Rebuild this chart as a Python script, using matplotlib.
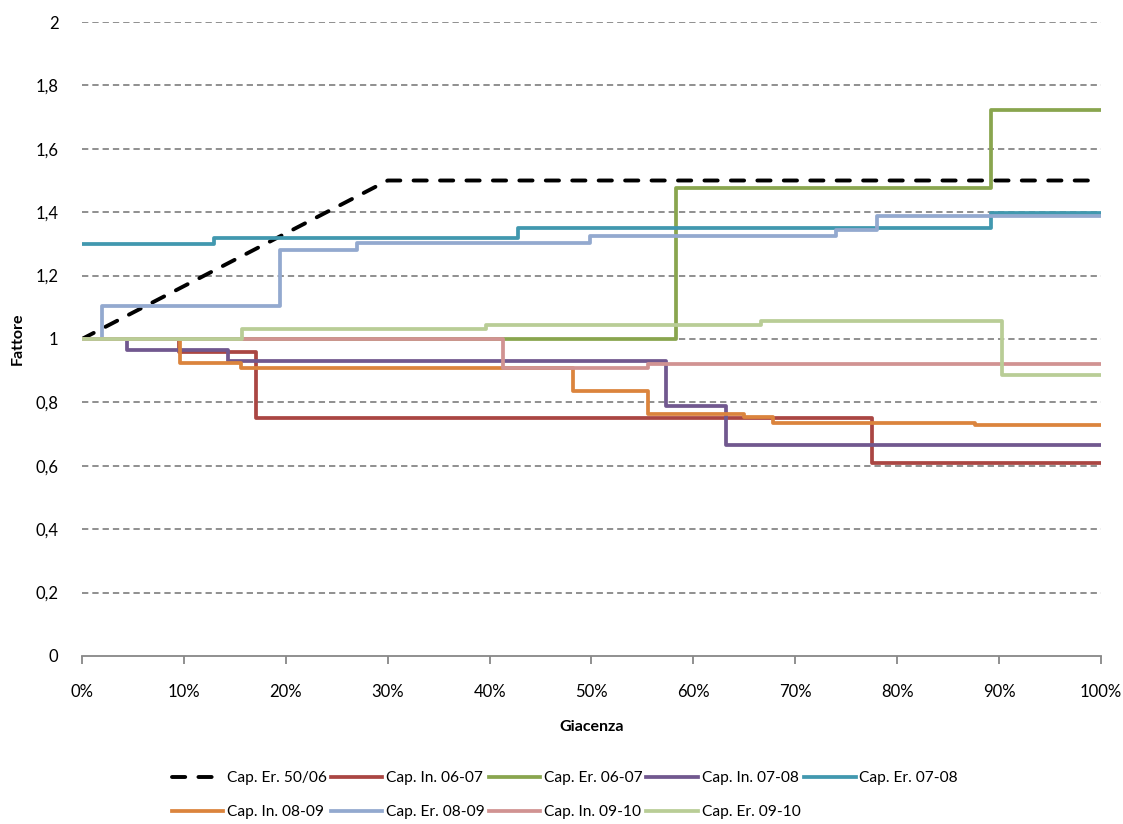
import matplotlib

matplotlib.use("Agg")

import matplotlib.pyplot as plt
from matplotlib.ticker import FixedLocator, FuncFormatter

plt.rcParams["font.family"] = ["Lato", "DejaVu Sans"]

# Giacenza (%) breakpoints and factor values for each series (step, post)
x_er_50_06 = [0, 30, 100]
y_er_50_06 = [1.0, 1.5, 1.5]

x_in_06_07 = [0, 9.5, 17.1, 77.5, 100]
y_in_06_07 = [1.0, 0.96, 0.75, 0.61, 0.61]

x_er_06_07 = [0, 58.3, 89.2, 100]
y_er_06_07 = [1.0, 1.477, 1.722, 1.722]

x_in_07_08 = [0, 4.4, 14.3, 57.3, 63.2, 100]
y_in_07_08 = [1.0, 0.965, 0.93, 0.79, 0.667, 0.667]

x_er_07_08 = [0, 13.0, 42.8, 89.2, 100]
y_er_07_08 = [1.30, 1.32, 1.35, 1.398, 1.398]

x_in_08_09 = [0, 9.6, 15.6, 48.2, 55.5, 65.0, 67.8, 87.6, 100]
y_in_08_09 = [1.0, 0.925, 0.907, 0.836, 0.763, 0.753, 0.734, 0.729, 0.729]

x_er_08_09 = [0, 2.0, 19.4, 27.0, 49.9, 74.0, 78.0, 100]
y_er_08_09 = [1.0, 1.104, 1.281, 1.304, 1.326, 1.344, 1.388, 1.388]

x_in_09_10 = [0, 41.3, 55.5, 100]
y_in_09_10 = [1.0, 0.907, 0.922, 0.922]

x_er_09_10 = [0, 15.7, 39.6, 66.6, 90.3, 100]
y_er_09_10 = [1.0, 1.031, 1.044, 1.057, 0.886, 0.886]

step_series = [
    ("Cap. In. 06-07", x_in_06_07, y_in_06_07, "#AA4643"),
    ("Cap. Er. 06-07", x_er_06_07, y_er_06_07, "#89A54E"),
    ("Cap. In. 07-08", x_in_07_08, y_in_07_08, "#71588F"),
    ("Cap. Er. 07-08", x_er_07_08, y_er_07_08, "#4198AF"),
    ("Cap. In. 08-09", x_in_08_09, y_in_08_09, "#DB843D"),
    ("Cap. Er. 08-09", x_er_08_09, y_er_08_09, "#93A9CF"),
    ("Cap. In. 09-10", x_in_09_10, y_in_09_10, "#D19392"),
    ("Cap. Er. 09-10", x_er_09_10, y_er_09_10, "#B9CD96"),
]

x_ticks = [0, 10, 20, 30, 40, 50, 60, 70, 80, 90, 100]
y_ticks = [0, 0.2, 0.4, 0.6, 0.8, 1.0, 1.2, 1.4, 1.6, 1.8, 2.0]


def main() -> None:
    fig = plt.figure(figsize=(11.23, 8.24), dpi=100)
    ax = fig.add_axes([0.073, 0.2039, 0.9074, 0.7694])

    for y in y_ticks[1:]:
        ax.axhline(y, color="#878787", lw=1.3, ls=(0, (3.5, 2.2)), zorder=1)

    handles = []
    (h,) = ax.plot(
        x_er_50_06, y_er_50_06, color="black", lw=2.8,
        ls=(0, (3.4, 3.4)), dash_capstyle="round", label="Cap. Er. 50/06", zorder=3,
    )
    handles.append(h)
    for label, xs, ys, color in step_series:
        (h,) = ax.step(xs, ys, where="post", color=color, lw=2.7, label=label,
                       solid_joinstyle="round", zorder=3)
        handles.append(h)

    ax.set_xlim(0, 100)
    ax.set_ylim(0, 2)
    for side in ("left", "right", "top"):
        ax.spines[side].set_visible(False)
    ax.spines["bottom"].set_color("#878787")
    ax.spines["bottom"].set_linewidth(1.3)

    ax.xaxis.set_major_locator(FixedLocator(x_ticks))
    ax.xaxis.set_major_formatter(FuncFormatter(lambda v, p: f"{v:.0f}%"))
    ax.yaxis.set_major_locator(FixedLocator(y_ticks))
    ax.yaxis.set_major_formatter(
        FuncFormatter(lambda v, p: f"{v:g}".replace(".", ","))
    )
    ax.tick_params(axis="x", direction="out", length=6, width=1.3, color="#878787",
                   pad=14, labelsize=12)
    ax.tick_params(axis="y", length=0, pad=17, labelsize=12)

    ax.set_xlabel("Giacenza", fontsize=11.5, fontweight="bold")
    ax.set_ylabel("Fattore", fontsize=11.5, fontweight="bold")
    ax.xaxis.set_label_coords(0.5, -0.101)
    ax.yaxis.set_label_coords(-0.056, 0.5)

    # reorder so the 5-column legend reads row by row
    order = [0, 5, 1, 6, 2, 7, 3, 8, 4]
    fig.legend(
        [handles[i] for i in order], [handles[i].get_label() for i in order],
        loc="upper left", bbox_to_anchor=(0.153, 0.064),
        ncol=5, frameon=False, fontsize=11.2, handlelength=3.3, handletextpad=0.25,
        columnspacing=0.25, labelspacing=1.3, borderaxespad=0, borderpad=0,
    )

    fig.savefig("out.png", dpi=100)
    plt.close(fig)


if __name__ == "__main__":
    main()
